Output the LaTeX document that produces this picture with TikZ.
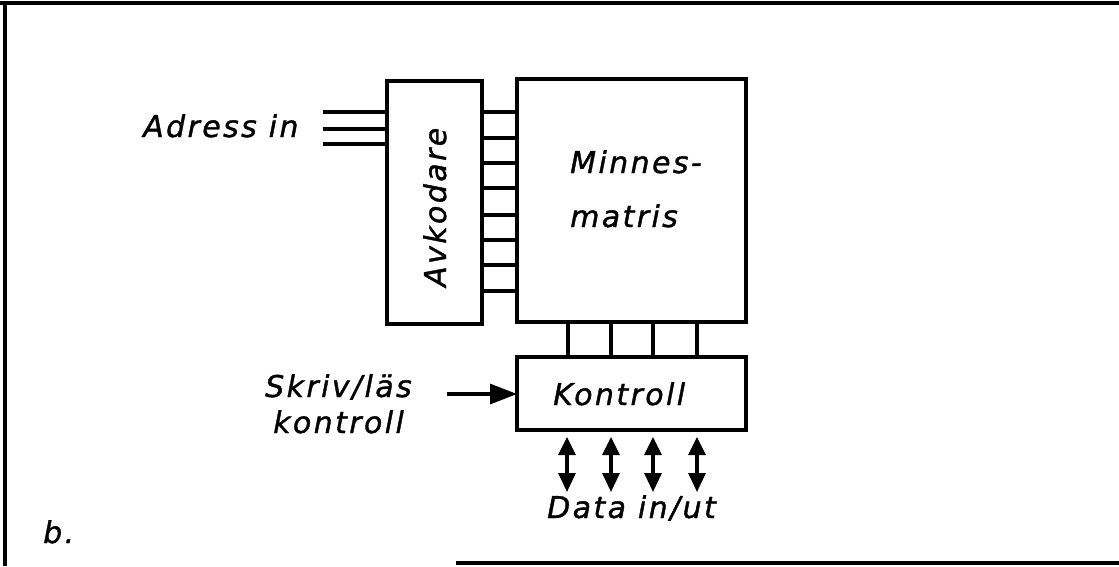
\documentclass[tikz,border=0pt]{standalone}
\usepackage{fontspec}
\setmainfont{DejaVu Sans}[LetterSpace=8, ItalicFeatures={FakeBold=1.2}]
\usetikzlibrary{arrows.meta}
\newcommand\lblfont{\fontsize{30}{36}\selectfont\itshape}
\newcommand\bigfont{\fontsize{30}{36}\selectfont\itshape}
\tikzset{
  blk/.style={draw, line width=4.2pt, inner sep=0pt, outer sep=0pt},
  wire/.style={line width=3.1pt},
  lab/.style={font=\lblfont, inner sep=0pt, anchor=base west},
  frame/.style={line width=3.2pt},
  tri/.style={-{Triangle[length=27pt,width=20pt]}, line width=3.1pt},
  bidir/.style={{Triangle[length=18pt,width=17pt]}-{Triangle[length=19pt,width=17pt]}, line width=3.1pt}
}
\begin{document}
\begin{tikzpicture}[x=1pt,y=-1pt]
\useasboundingbox (0,0) rectangle (1119,566);
% frame
\coordinate (ftl) at (0,3);
\coordinate (ftr) at (1119,3);
\coordinate (fl1) at (5,3);
\coordinate (fl2) at (5,566);
\coordinate (fb1) at (456,563);
\coordinate (fb2) at (1119,563);
\draw[frame] (ftl) -- (ftr);
\draw[frame] (fl1) -- (fl2);
\draw[frame] (fb1) -- (fb2);
% blocks
\node[blk, minimum width=95pt, minimum height=243pt] (avk) at (434.5,202.5) {};
\node[blk, minimum width=229pt, minimum height=243pt] (mm) at (631.5,200.5) {};
\node[blk, minimum width=229pt, minimum height=73pt] (kon) at (631.5,393.5) {};
% decoder to matrix lines
\foreach \yy in {112,138,163,188,215,240,265,291}
  \draw[wire] (avk.east |- 0,\yy) -- (mm.west |- 0,\yy);
% address lines
\foreach \yy/\nm in {112/a1,129/a2,144/a3}{
  \coordinate (\nm) at (323,\yy);
  \draw[wire] (\nm) -- (avk.west |- \nm);
}
% matrix to control
\foreach \xx in {568,611,653,697}
  \draw[wire] (mm.south -| \xx,0) -- (kon.north -| \xx,0);
% write/read arrow
\coordinate (sk) at (447,394);
\draw[tri] (sk) -- (kon.west |- sk);
% data arrows
\foreach \xx/\nm in {567/d1,611/d2,653/d3,697/d4}{
  \coordinate (\nm t) at (\xx,437);
  \coordinate (\nm b) at (\xx,492);
  \draw[bidir] (\nm t) -- (\nm b);
}
% texts
\node[lab] (adr) at (143,137) {Adress in};
\node[lab] (skr) at (265,397) {Skriv/läs};
\node[lab] (skr2) at (273,433) {kontroll};
\node[lab] (mt1) at (570,173) {Minnes-};
\node[lab] (mt2) at (570,227) {matris};
\node[lab] (kt) at (553,405) {Kontroll};
\node[lab] (dt) at (547,518) {Data in/ut};
\node[lab] (bb) at (43,543) {b.};
\node[lab, font=\bigfont, rotate=90] (avt) at (446,287) {Avkodare};
\end{tikzpicture}
\end{document}
